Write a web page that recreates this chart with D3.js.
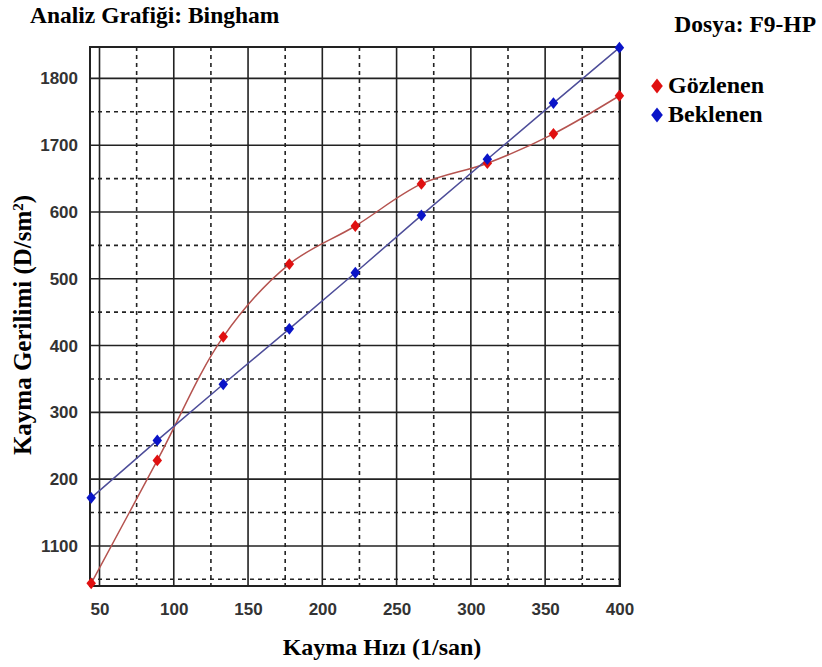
<!DOCTYPE html>
<html>
<head>
<meta charset="utf-8">
<script src="https://cdn.jsdelivr.net/npm/d3@7"></script>
<style>
  body { margin: 0; background: #fff; }
</style>
</head>
<body>
<div id="chart"></div>
<script>
// shear rate values (1/san)
const shearRate = [44.4, 88.9, 133.3, 177.8, 222.2, 266.7, 311.1, 355.6, 400];
// observed shear stress
const observed = [1044, 1228, 1413, 1522, 1579, 1642, 1673, 1717, 1774];
// expected (Bingham fit)
const expected = [1172, 1258, 1342, 1425, 1509, 1595, 1679, 1763, 1846];

const xTicks = [50, 100, 150, 200, 250, 300, 350, 400];
const xMinor = [75, 125, 175, 225, 275, 325, 375];
const yTicks = [1100, 1200, 1300, 1400, 1500, 1600, 1700, 1800];
const yTickLabels = ["1100", "200", "300", "400", "500", "600", "1700", "1800"];
const yMinor = [1050, 1150, 1250, 1350, 1450, 1550, 1650, 1750];

const width = 822, height = 667;
const plot = {left: 90, right: 620, top: 47, bottom: 586};

const svg = d3.select("#chart").append("svg")
  .attr("width", width)
  .attr("height", height);

let x = d3.scaleLinear().domain([43.6, 400.4]).range([plot.left, plot.right]);
let y = d3.scaleLinear().domain([1040, 1847]).range([plot.bottom, plot.top]);

const serif = "'Liberation Serif', 'Times New Roman', serif";
const sans = "'Liberation Sans', Arial, sans-serif";

// grid
const grid = svg.append("g");
grid.selectAll(".vminor").data(xMinor).join("line")
  .attr("x1", d => x(d)).attr("x2", d => x(d))
  .attr("y1", plot.top).attr("y2", plot.bottom)
  .attr("stroke", "#222").attr("stroke-width", 1.6)
  .attr("stroke-dasharray", "4,4");
grid.selectAll(".hminor").data(yMinor).join("line")
  .attr("y1", d => y(d)).attr("y2", d => y(d))
  .attr("x1", plot.left).attr("x2", plot.right)
  .attr("stroke", "#222").attr("stroke-width", 1.6)
  .attr("stroke-dasharray", "4,4");
grid.selectAll(".vmajor").data(xTicks).join("line")
  .attr("x1", d => x(d)).attr("x2", d => x(d))
  .attr("y1", plot.top).attr("y2", plot.bottom)
  .attr("stroke", "#222").attr("stroke-width", 1.6);
grid.selectAll(".hmajor").data(yTicks).join("line")
  .attr("y1", d => y(d)).attr("y2", d => y(d))
  .attr("x1", plot.left).attr("x2", plot.right)
  .attr("stroke", "#222").attr("stroke-width", 1.6);

svg.append("rect")
  .attr("x", plot.left).attr("y", plot.top)
  .attr("width", plot.right - plot.left).attr("height", plot.bottom - plot.top)
  .attr("fill", "none").attr("stroke", "#222").attr("stroke-width", 2);

// axes (labels only)
const xAxis = svg.append("g")
  .attr("transform", `translate(0, ${plot.bottom})`)
  .call(d3.axisBottom(x).tickValues(xTicks).tickSize(0).tickPadding(17));
xAxis.select(".domain").remove();
xAxis.selectAll("text")
  .attr("font-family", sans).attr("font-weight", "bold")
  .attr("font-size", "17px").attr("fill", "#333");

const yAxis = svg.append("g")
  .attr("transform", `translate(${plot.left}, 0)`)
  .call(d3.axisLeft(y).tickValues(yTicks).tickSize(0).tickPadding(12)
    .tickFormat((d, i) => yTickLabels[i]));
yAxis.select(".domain").remove();
yAxis.selectAll("text")
  .attr("font-family", sans).attr("font-weight", "bold")
  .attr("font-size", "17px").attr("fill", "#333");

// lines
const pts = (vals) => shearRate.map((d, i) => [d, vals[i]]);

svg.append("path")
  .datum(pts(observed))
  .attr("d", d3.line().x(d => x(d[0])).y(d => y(d[1])).curve(d3.curveCatmullRom))
  .attr("fill", "none").attr("stroke", "#b5534f").attr("stroke-width", 1.5);

svg.append("path")
  .datum(pts(expected))
  .attr("d", d3.line().x(d => x(d[0])).y(d => y(d[1])))
  .attr("fill", "none").attr("stroke", "#4d4d99").attr("stroke-width", 1.5);

const diamond = d3.symbol().type(d3.symbolDiamond).size(40);

svg.selectAll(".obs").data(pts(observed)).join("path")
  .attr("transform", d => `translate(${x(d[0])}, ${y(d[1])}) scale(1.4, 1)`)
  .attr("d", diamond)
  .attr("fill", "#e01010");

svg.selectAll(".exp").data(pts(expected)).join("path")
  .attr("transform", d => `translate(${x(d[0])}, ${y(d[1])}) scale(1.4, 1)`)
  .attr("d", diamond)
  .attr("fill", "#0a14c8");

// titles
svg.append("text")
  .attr("x", 30).attr("y", 23)
  .attr("font-family", serif).attr("font-weight", "bold").attr("font-size", "23.5px")
  .text("Analiz Grafiği: Bingham");

svg.append("text")
  .attr("x", 816).attr("y", 32)
  .attr("text-anchor", "end")
  .attr("font-family", serif).attr("font-weight", "bold").attr("font-size", "23.5px")
  .text("Dosya: F9-HP");

svg.append("text")
  .attr("x", 382).attr("y", 655)
  .attr("text-anchor", "middle")
  .attr("font-family", serif).attr("font-weight", "bold").attr("font-size", "24px")
  .text("Kayma Hızı (1/san)");

const yTitle = svg.append("text")
  .attr("transform", "translate(31, 325) rotate(-90)")
  .attr("text-anchor", "middle")
  .attr("font-family", serif).attr("font-weight", "bold").attr("font-size", "25px");
yTitle.append("tspan").text("Kayma Gerilimi (D/sm");
yTitle.append("tspan").attr("baseline-shift", "super").attr("font-size", "15px").text("2");
yTitle.append("tspan").text(")");

// legend
const legendItems = [
  {name: "Gözlenen", color: "#e01010"},
  {name: "Beklenen", color: "#0a14c8"}
];
const legend = svg.append("g");
legend.selectAll("path").data(legendItems).join("path")
  .attr("transform", (d, i) => `translate(657, ${86 + i * 29}) scale(1.4, 1.05)`)
  .attr("d", d3.symbol().type(d3.symbolDiamond).size(60))
  .attr("fill", d => d.color);
legend.selectAll("text").data(legendItems).join("text")
  .attr("x", 668).attr("y", (d, i) => 93 + i * 29)
  .attr("font-family", serif).attr("font-weight", "bold").attr("font-size", "24px")
  .text(d => d.name);
</script>
</body>
</html>
